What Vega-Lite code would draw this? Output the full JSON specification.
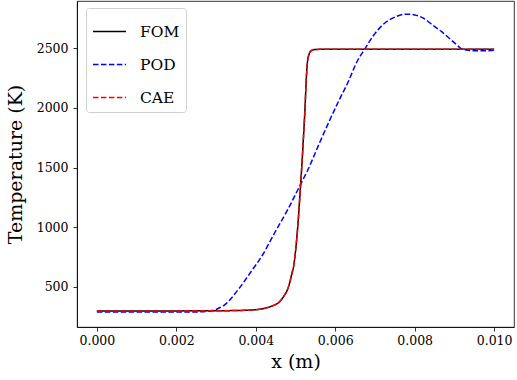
{
  "$schema": "https://vega.github.io/schema/vega-lite/v6.json",
  "width": 437,
  "height": 326,
  "autosize": "none",
  "padding": {"left": 77, "top": 1, "right": 3, "bottom": 53},
  "config": {
    "font": "DejaVu Serif",
    "view": {"stroke": "#000000", "strokeWidth": 0.8},
    "axis": {
      "grid": false,
      "domainColor": "#000000",
      "domainWidth": 0.8,
      "tickColor": "#000000",
      "tickWidth": 0.8,
      "tickSize": 4,
      "labelFont": "DejaVu Serif",
      "labelFontSize": 12.5,
      "labelColor": "#000000",
      "titleFont": "DejaVu Serif",
      "titleFontSize": 19,
      "titleFontWeight": "normal",
      "titleColor": "#000000"
    }
  },
  "data": {
    "values": [
      {"s": "FOM", "x": 0, "T": 300}, {"s": "FOM", "x": 0.001, "T": 300}, {"s": "FOM", "x": 0.002, "T": 300},
      {"s": "FOM", "x": 0.003, "T": 301}, {"s": "FOM", "x": 0.0035, "T": 303}, {"s": "FOM", "x": 0.004, "T": 310},
      {"s": "FOM", "x": 0.0042, "T": 320}, {"s": "FOM", "x": 0.0044, "T": 340}, {"s": "FOM", "x": 0.0046, "T": 377},
      {"s": "FOM", "x": 0.0047, "T": 420}, {"s": "FOM", "x": 0.0048, "T": 480}, {"s": "FOM", "x": 0.00485, "T": 531},
      {"s": "FOM", "x": 0.0049, "T": 600}, {"s": "FOM", "x": 0.00497, "T": 710}, {"s": "FOM", "x": 0.00501, "T": 830},
      {"s": "FOM", "x": 0.00505, "T": 977},
      {"s": "FOM", "x": 0.00512, "T": 1312}, {"s": "FOM", "x": 0.00516, "T": 1520}, {"s": "FOM", "x": 0.0052, "T": 1750},
      {"s": "FOM", "x": 0.00524, "T": 2000}, {"s": "FOM", "x": 0.00527, "T": 2234}, {"s": "FOM", "x": 0.0053, "T": 2380},
      {"s": "FOM", "x": 0.00535, "T": 2457}, {"s": "FOM", "x": 0.0054, "T": 2480}, {"s": "FOM", "x": 0.00547, "T": 2488},
      {"s": "FOM", "x": 0.0056, "T": 2490}, {"s": "FOM", "x": 0.007, "T": 2490}, {"s": "FOM", "x": 0.01, "T": 2490},

      {"s": "POD", "x": 0, "T": 290}, {"s": "POD", "x": 0.001, "T": 290}, {"s": "POD", "x": 0.002, "T": 290},
      {"s": "POD", "x": 0.0025, "T": 291}, {"s": "POD", "x": 0.0028, "T": 296}, {"s": "POD", "x": 0.00296, "T": 307},
      {"s": "POD", "x": 0.0031, "T": 328}, {"s": "POD", "x": 0.00321, "T": 349}, {"s": "POD", "x": 0.00355, "T": 475},
      {"s": "POD", "x": 0.00388, "T": 628}, {"s": "POD", "x": 0.00417, "T": 768}, {"s": "POD", "x": 0.00447, "T": 950},
      {"s": "POD", "x": 0.0048, "T": 1145}, {"s": "POD", "x": 0.00514, "T": 1368}, {"s": "POD", "x": 0.00531, "T": 1480},
      {"s": "POD", "x": 0.0056, "T": 1703}, {"s": "POD", "x": 0.0061, "T": 2066}, {"s": "POD", "x": 0.00631, "T": 2206},
      {"s": "POD", "x": 0.00657, "T": 2401}, {"s": "POD", "x": 0.00673, "T": 2485}, {"s": "POD", "x": 0.00695, "T": 2600},
      {"s": "POD", "x": 0.00719, "T": 2694}, {"s": "POD", "x": 0.0075, "T": 2760}, {"s": "POD", "x": 0.00778, "T": 2785},
      {"s": "POD", "x": 0.008, "T": 2778}, {"s": "POD", "x": 0.00825, "T": 2745}, {"s": "POD", "x": 0.00845, "T": 2694},
      {"s": "POD", "x": 0.00867, "T": 2640}, {"s": "POD", "x": 0.00887, "T": 2583}, {"s": "POD", "x": 0.00905, "T": 2530},
      {"s": "POD", "x": 0.00916, "T": 2499}, {"s": "POD", "x": 0.0093, "T": 2485}, {"s": "POD", "x": 0.00945, "T": 2479},
      {"s": "POD", "x": 0.0097, "T": 2478}, {"s": "POD", "x": 0.01, "T": 2482},

      {"s": "CAE", "x": 0, "T": 300}, {"s": "CAE", "x": 0.001, "T": 300}, {"s": "CAE", "x": 0.002, "T": 300},
      {"s": "CAE", "x": 0.003, "T": 301}, {"s": "CAE", "x": 0.0035, "T": 303}, {"s": "CAE", "x": 0.004, "T": 310},
      {"s": "CAE", "x": 0.0042, "T": 320}, {"s": "CAE", "x": 0.0044, "T": 340}, {"s": "CAE", "x": 0.0046, "T": 377},
      {"s": "CAE", "x": 0.0047, "T": 420}, {"s": "CAE", "x": 0.0048, "T": 480}, {"s": "CAE", "x": 0.00485, "T": 531},
      {"s": "CAE", "x": 0.0049, "T": 600}, {"s": "CAE", "x": 0.00497, "T": 710}, {"s": "CAE", "x": 0.00501, "T": 830},
      {"s": "CAE", "x": 0.00505, "T": 977},
      {"s": "CAE", "x": 0.00512, "T": 1312}, {"s": "CAE", "x": 0.00516, "T": 1520}, {"s": "CAE", "x": 0.0052, "T": 1750},
      {"s": "CAE", "x": 0.00524, "T": 2000}, {"s": "CAE", "x": 0.00527, "T": 2234}, {"s": "CAE", "x": 0.0053, "T": 2380},
      {"s": "CAE", "x": 0.00535, "T": 2457}, {"s": "CAE", "x": 0.0054, "T": 2480}, {"s": "CAE", "x": 0.00547, "T": 2488},
      {"s": "CAE", "x": 0.0056, "T": 2490}, {"s": "CAE", "x": 0.007, "T": 2490}, {"s": "CAE", "x": 0.01, "T": 2490}
    ]
  },
  "encoding": {
    "x": {
      "field": "x", "type": "quantitative",
      "scale": {"domain": [-0.0005, 0.0105], "nice": false, "zero": false},
      "axis": {"title": "x (m)", "values": [0, 0.002, 0.004, 0.006, 0.008, 0.01], "format": ".3f", "labelPadding": 3, "titlePadding": 6, "labelFlush": false}
    },
    "y": {
      "field": "T", "type": "quantitative",
      "scale": {"domain": [165, 2895], "nice": false, "zero": false},
      "axis": {"title": "Temperature (K)", "values": [500, 1000, 1500, 2000, 2500], "format": "d", "labelPadding": 5, "titlePadding": 11}
    },
    "color": {
      "field": "s", "type": "nominal",
      "scale": {"domain": ["FOM", "POD", "CAE"], "range": ["#000000", "#0000ff", "#ff0000"]},
      "legend": {
        "title": null, "orient": "none", "legendX": 9, "legendY": 7,
        "symbolType": "stroke", "symbolSize": 1089, "symbolStrokeWidth": 1.5,
        "labelFont": "DejaVu Serif", "labelFontSize": 15.5, "labelColor": "#000000", "labelOffset": 13,
        "rowPadding": 7, "padding": 6,
        "strokeColor": "#d0d0d0", "fillColor": "rgba(255,255,255,0.8)", "cornerRadius": 3
      }
    },
    "strokeDash": {
      "field": "s", "type": "nominal",
      "scale": {"domain": ["FOM", "POD", "CAE"], "range": [[1, 0], [5.55, 2.4], [5.55, 2.4]]},
      "legend": {
        "title": null, "orient": "none", "legendX": 9, "legendY": 7,
        "symbolType": "stroke", "symbolSize": 1089, "symbolStrokeWidth": 1.5,
        "labelFont": "DejaVu Serif", "labelFontSize": 15.5, "labelColor": "#000000", "labelOffset": 13,
        "rowPadding": 7, "padding": 6,
        "strokeColor": "#d0d0d0", "fillColor": "rgba(255,255,255,0.8)", "cornerRadius": 3
      }
    }
  },
  "layer": [
    {"transform": [{"filter": "datum.s === 'FOM'"}], "mark": {"type": "line", "strokeWidth": 1.5, "interpolate": "monotone"}},
    {"transform": [{"filter": "datum.s === 'POD'"}], "mark": {"type": "line", "strokeWidth": 1.5, "interpolate": "monotone"}},
    {"transform": [{"filter": "datum.s === 'CAE'"}], "mark": {"type": "line", "strokeWidth": 1.5, "interpolate": "monotone"}}
  ]
}
